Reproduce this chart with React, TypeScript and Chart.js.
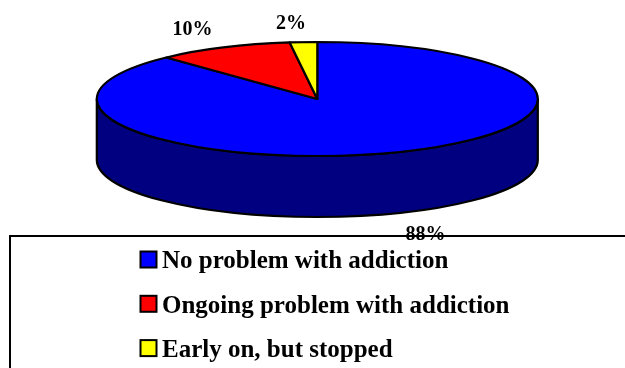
import React, { useEffect, useRef } from "react";
import { Chart, registerables } from "chart.js";

Chart.register(...registerables);

const categories = [
  "No problem with addiction",
  "Ongoing problem with addiction",
  "Early on, but stopped",
];
const shares = [88, 10, 2];
const topColors = ["#0000ff", "#ff0000", "#ffff00"];
const wallColors = ["#000080", "#800000", "#808000"];

// Tilted disc geometry
const disc = { cx: 317.3, cy: 99, rx: 220.5, ry: 57, depth: 61 };
// Distance of each percentage label's baseline point from its slice's rim point
const labelShift = [
  { x: 27, y: 27 },
  { x: -31, y: -12 },
  { x: -12.5, y: -13 },
];
const serif = '"Liberation Serif", "Times New Roman", serif';

const tiltedPie = {
  id: "tiltedPie",
  beforeDatasetDraw(chart: any) {
    const { ctx } = chart;
    const arcs = chart.getDatasetMeta(0).data;
    const { cx, cy, rx, ry, depth } = disc;
    ctx.save();
    ctx.lineWidth = 2.2;
    ctx.strokeStyle = "#000";
    ctx.lineJoin = "round";

    // Visible outer wall: only the near half of the rim
    arcs.forEach((arc: any, i: number) => {
      const a = Math.max(arc.startAngle, 0);
      const b = Math.min(arc.endAngle, Math.PI);
      if (b <= a) return;
      ctx.beginPath();
      ctx.ellipse(cx, cy, rx, ry, 0, a, b);
      ctx.ellipse(cx, cy + depth, rx, ry, 0, b, a, true);
      ctx.closePath();
      ctx.fillStyle = wallColors[i];
      ctx.fill();
      ctx.stroke();
    });

    // Top face
    arcs.forEach((arc: any, i: number) => {
      ctx.beginPath();
      ctx.moveTo(cx, cy);
      ctx.ellipse(cx, cy, rx, ry, 0, arc.startAngle, arc.endAngle);
      ctx.closePath();
      ctx.fillStyle = topColors[i];
      ctx.fill();
      ctx.stroke();
    });
    ctx.restore();
    return false;
  },
  afterDatasetsDraw(chart: any) {
    const { ctx } = chart;
    const arcs = chart.getDatasetMeta(0).data;
    const { cx, cy, rx, ry, depth } = disc;

    // Percentage labels
    ctx.save();
    ctx.fillStyle = "#000";
    ctx.font = `bold 20px ${serif}`;
    ctx.textAlign = "center";
    ctx.textBaseline = "alphabetic";
    arcs.forEach((arc: any, i: number) => {
      const mid = (arc.startAngle + arc.endAngle) / 2;
      const sin = Math.sin(mid);
      const x = cx + rx * Math.cos(mid) + labelShift[i].x;
      const y = cy + ry * sin + (sin > 0 ? depth : 0) + labelShift[i].y;
      ctx.fillText(`${shares[i]}%`, x, y);
    });

    // Legend frame: top and left edges, crossing the lowest label
    ctx.strokeStyle = "#000";
    ctx.lineWidth = 2;
    ctx.beginPath();
    ctx.moveTo(10, 368);
    ctx.lineTo(10, 236);
    ctx.lineTo(625, 236);
    ctx.stroke();

    // Legend rows
    ctx.textAlign = "left";
    ctx.font = `bold 25px ${serif}`;
    categories.forEach((label, i) => {
      const rowY = 251.5 + i * 44.3;
      ctx.fillStyle = topColors[i];
      ctx.fillRect(140.5, rowY, 16, 16);
      ctx.strokeRect(140.5, rowY, 16, 16);
      ctx.fillStyle = "#000";
      ctx.fillText(label, 162, rowY + 16.8);
    });
    ctx.restore();
  },
};

export default function App() {
  const ref = useRef<HTMLCanvasElement | null>(null);
  useEffect(() => {
    const chart = new Chart(ref.current as HTMLCanvasElement, {
      type: "pie",
      data: {
        labels: categories,
        datasets: [{ data: shares, backgroundColor: topColors }],
      },
      options: {
        responsive: false,
        animation: false,
        plugins: { legend: { display: false }, tooltip: { enabled: false } },
      },
      plugins: [tiltedPie],
    } as any);
    return () => chart.destroy();
  }, []);
  return (
    <canvas
      ref={ref}
      width={625}
      height={368}
      style={{ position: "absolute", left: 0, top: 0, display: "block", background: "#fff" }}
    />
  );
}
